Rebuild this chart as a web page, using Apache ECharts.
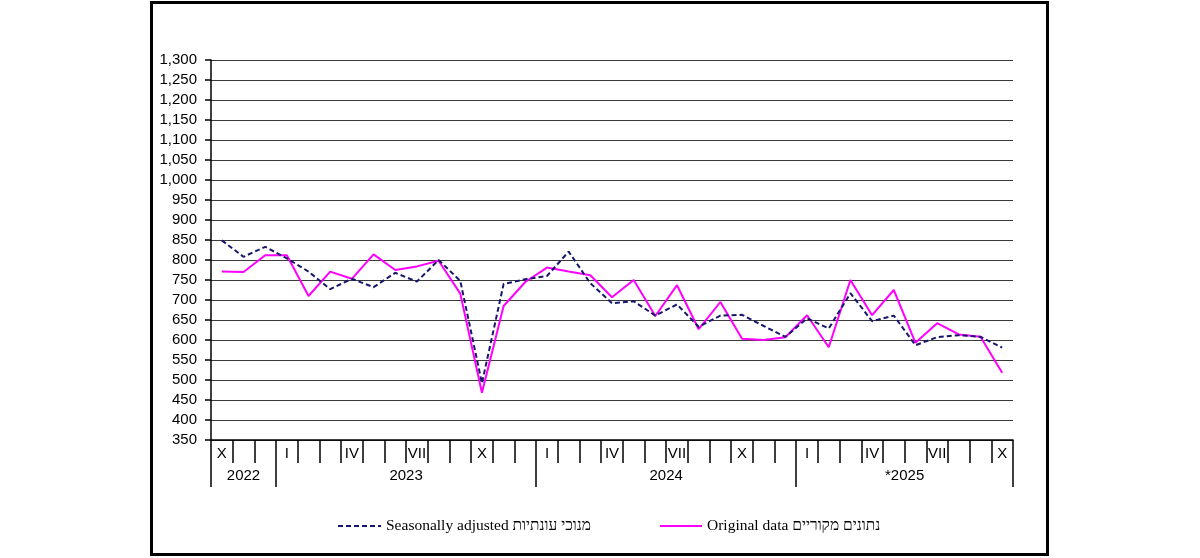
<!DOCTYPE html>
<html>
<head>
<meta charset="utf-8">
<script src="https://cdn.jsdelivr.net/npm/echarts@6/dist/echarts.min.js"></script>
<style>
html,body{margin:0;padding:0;background:#fff;}
#chart{width:1200px;height:558px;}
</style>
</head>
<body>
<div id="chart"></div>
<script>
// Categories: months from Oct 2022 to Oct 2025
const categories = [
  '2022-10','2022-11','2022-12',
  '2023-01','2023-02','2023-03','2023-04','2023-05','2023-06','2023-07','2023-08','2023-09','2023-10','2023-11','2023-12',
  '2024-01','2024-02','2024-03','2024-04','2024-05','2024-06','2024-07','2024-08','2024-09','2024-10','2024-11','2024-12',
  '2025-01','2025-02','2025-03','2025-04','2025-05','2025-06','2025-07','2025-08','2025-09','2025-10'
];
const monthTickLabels = {'01':'I','04':'IV','07':'VII','10':'X'};
const yearKeys = ['2022','2023','2024','2025'];
const yearLabels = ['2022','2023','2024','*2025'];

const seasonalName = 'Seasonally adjusted מנוכי עונתיות';
const originalName = 'Original data נתונים מקוריים';

const seasonallyAdjusted = [849,808,833,804,771,727,753,732,768,746,800,748,492,740,752,760,821,742,692,697,661,689,633,661,663,635,608,654,629,717,647,661,587,607,612,608,581];
const originalData = [771,770,812,812,710,771,753,814,775,784,798,716,468,685,745,781,771,762,707,750,660,737,627,695,603,600,607,662,582,750,662,725,593,642,614,608,518];

const yMin = 350, yMax = 1300, yStep = 50;

// year boundaries & label centres on a value scale counted in months
const yearCounts = yearKeys.map(y => categories.filter(c => c.startsWith(y)).length);
const yearBounds = [0];
yearCounts.forEach(n => yearBounds.push(yearBounds[yearBounds.length-1] + n));
const yearCentres = yearCounts.map((n,i) => yearBounds[i] + n/2);

const chart = echarts.init(document.getElementById('chart'), null, {renderer:'canvas'});
const axisFont = 'Liberation Sans, Arial, sans-serif';
const legendFont = 'Liberation Serif, Times New Roman, serif';

chart.setOption({
  animation: false,
  backgroundColor: '#fff',
  graphic: [{
    type: 'rect',
    shape: {x: 151.5, y: 2.5, width: 896, height: 552},
    style: {fill: 'none', stroke: '#000', lineWidth: 3},
    silent: true, z: 100
  }],
  grid: {left: 211, right: 187, top: 60, bottom: 118, containLabel: false},
  legend: [{
    left: 332, top: 513,
    itemWidth: 43, itemHeight: 14,
    data: [seasonalName],
    itemStyle: {opacity: 0},
    textStyle: {fontFamily: legendFont, fontSize: 15.5, color: '#000', padding: [0,0,0,0]},
    selectedMode: false
  },{
    left: 654, top: 513,
    itemWidth: 42, itemHeight: 14,
    data: [originalName],
    itemStyle: {opacity: 0},
    textStyle: {fontFamily: legendFont, fontSize: 15.5, color: '#000', padding: [0,0,0,0]},
    selectedMode: false
  }],
  xAxis: [{
    type: 'category',
    data: categories,
    boundaryGap: true,
    position: 'bottom',
    axisLine: {show: true, onZero: false, lineStyle: {color: '#000', width: 1.5}},
    axisTick: {show: true, interval: 0, length: 23, inside: false, lineStyle: {color: '#000', width: 1.5}},
    axisLabel: {
      interval: 0, margin: 6, fontFamily: axisFont, fontSize: 15, color: '#000',
      formatter: v => monthTickLabels[v.slice(5)] || ''
    },
    splitLine: {show: false}
  },{
    type: 'value',
    min: 0, max: categories.length,
    position: 'bottom',
    axisLine: {show: false},
    axisTick: {show: true, length: 47, customValues: yearBounds, lineStyle: {color: '#000', width: 1.5}},
    axisLabel: {
      show: true, margin: 28, fontFamily: axisFont, fontSize: 15, color: '#000',
      customValues: yearCentres,
      formatter: v => { const i = yearCentres.indexOf(v); return i >= 0 ? yearLabels[i] : ''; }
    },
    splitLine: {show: false}
  }],
  yAxis: {
    type: 'value',
    min: yMin, max: yMax, interval: yStep,
    axisLine: {show: true, lineStyle: {color: '#000', width: 1.5}},
    axisTick: {show: true, length: 6, lineStyle: {color: '#000', width: 1.5}},
    axisLabel: {
      margin: 14, fontFamily: axisFont, fontSize: 15, color: '#000',
      formatter: v => v.toLocaleString('en-US')
    },
    splitLine: {show: true, lineStyle: {color: '#3a3a3a', width: 1.2}}
  },
  series: [{
    name: seasonalName,
    type: 'line',
    xAxisIndex: 0,
    data: seasonallyAdjusted,
    symbol: 'none',
    color: '#17176b',
    lineStyle: {color: '#17176b', width: 2, type: [5,3]},
    z: 3
  },{
    name: originalName,
    type: 'line',
    xAxisIndex: 0,
    data: originalData,
    symbol: 'none',
    color: '#ff00ff',
    lineStyle: {color: '#ff00ff', width: 2},
    z: 2
  }]
});
</script>
</body>
</html>
